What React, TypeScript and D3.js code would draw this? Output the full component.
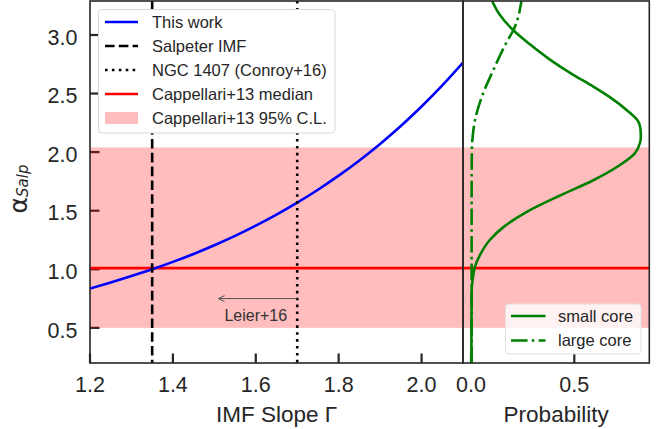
import React from "react";
import * as d3 from "d3";

// ---- data ----
const gammaVals = [1.2, 1.25, 1.3, 1.35, 1.4, 1.45, 1.5, 1.55, 1.6, 1.65, 1.7, 1.75, 1.8, 1.85, 1.9, 1.95, 2.0, 2.05, 2.1];
const alphaThisWork = [0.835, 0.887, 0.942, 1.0, 1.063, 1.131, 1.205, 1.285, 1.372, 1.466, 1.568, 1.679, 1.799, 1.929, 2.07, 2.223, 2.389, 2.569, 2.764];

const smallCoreAlpha = [0.2, 0.5, 0.7, 0.82, 0.91, 1.02, 1.12, 1.25, 1.36, 1.49, 1.63, 1.76, 1.89, 1.99, 2.08, 2.13, 2.2, 2.26, 2.36, 2.47, 2.56, 2.66, 2.79, 2.92, 3.04, 3.17, 3.3];
const smallCoreProb = [0.002, 0.002, 0.003, 0.003, 0.008, 0.019, 0.043, 0.091, 0.157, 0.27, 0.431, 0.592, 0.721, 0.793, 0.818, 0.822, 0.82, 0.81, 0.753, 0.672, 0.592, 0.495, 0.382, 0.285, 0.205, 0.14, 0.1];

const largeCoreAlpha = [0.2, 1.0, 1.6, 2.0, 2.13, 2.27, 2.47, 2.7, 2.94, 3.04, 3.3];
const largeCoreProb = [0.003, 0.003, 0.003, 0.004, 0.008, 0.019, 0.052, 0.108, 0.173, 0.205, 0.245];

const salpeterGamma = 1.35;
const conroyGamma = 1.7;
const cappMedian = 1.01;
const cappLow = 0.5;
const cappHigh = 2.04;

const leftXTicks = [1.2, 1.4, 1.6, 1.8, 2.0];
const rightXTicks = [0.0, 0.5];
const yTicks = [0.5, 1.0, 1.5, 2.0, 2.5, 3.0];

const leftLegend = ["This work", "Salpeter IMF", "NGC 1407 (Conroy+16)", "Cappellari+13 median", "Cappellari+13 95% C.L."];
const rightLegend = ["small core", "large core"];

const annotationText = "Leier+16";
const arrowFromGamma = 1.7;
const arrowToGamma = 1.51;
const arrowAlpha = 0.75;

export default function App() {
  const W = 665, H = 429;
  const top = 1, bottom = 363;
  const lx0 = 90, lx1 = 463, rx1 = 649.3;
  const font = "'Liberation Sans', Arial, sans-serif";
  const ink = "#262626";

  const y = d3.scaleLinear().domain([0.2, 3.29]).range([bottom, top]);
  const xL = d3.scaleLinear().domain([1.2, 2.1]).range([lx0, lx1]);
  const xR = d3.scaleLinear().domain([-0.0387, 0.863]).range([lx1, rx1]);

  const blueLine = d3.line<number>()
    .x((_, i) => xL(gammaVals[i]))
    .y((d) => y(d))
    .curve(d3.curveMonotoneX)(alphaThisWork) as string;

  const smallLine = d3.line<number>()
    .x((d) => xR(d))
    .y((_, i) => y(smallCoreAlpha[i]))
    .curve(d3.curveMonotoneY)(smallCoreProb) as string;

  const largeLine = d3.line<number>()
    .x((d) => xR(d))
    .y((_, i) => y(largeCoreAlpha[i]))
    .curve(d3.curveMonotoneY)(largeCoreProb) as string;

  const lw = 2.6;
  const tickLen = 9.5;
  const ax0 = xL(arrowToGamma), ax1 = xL(arrowFromGamma), ay = y(arrowAlpha);

  const legRows = [22, 46, 70, 94, 118];
  const rlegRows = [316, 340.5];

  return (
    <svg width={W} height={H} style={{ position: "absolute", left: 0, top: 0, background: "#fff" }} fontFamily={font}>
      <defs>
        <clipPath id="clipL"><rect x={lx0} y={top} width={lx1 - lx0} height={bottom - top} /></clipPath>
        <clipPath id="clipR"><rect x={lx1} y={top} width={rx1 - lx1} height={bottom - top} /></clipPath>
      </defs>

      {/* ticks (under band) */}
      {yTicks.map((t) => (
        <line key={"yt" + t} x1={lx0} x2={lx0 + tickLen} y1={y(t)} y2={y(t)} stroke={ink} strokeWidth={2.2} />
      ))}
      {leftXTicks.map((t) => (
        <line key={"xt" + t} x1={xL(t)} x2={xL(t)} y1={bottom} y2={bottom - tickLen} stroke={ink} strokeWidth={2.2} />
      ))}
      {rightXTicks.map((t) => (
        <line key={"rt" + t} x1={xR(t)} x2={xR(t)} y1={bottom} y2={bottom - tickLen} stroke={ink} strokeWidth={2.2} />
      ))}

      {/* band */}
      <rect x={lx0} y={y(cappHigh)} width={rx1 - lx0} height={y(cappLow) - y(cappHigh)} fill="#ff0000" fillOpacity={0.26} />
      {/* median */}
      <line x1={lx0} x2={rx1} y1={y(cappMedian)} y2={y(cappMedian)} stroke="#ff0000" strokeWidth={lw} />

      {/* left panel lines */}
      <g clipPath="url(#clipL)">
        <path d={blueLine} fill="none" stroke="#0000ff" strokeWidth={lw} />
        <line x1={xL(salpeterGamma)} x2={xL(salpeterGamma)} y1={top} y2={bottom} stroke="#000" strokeWidth={lw} strokeDasharray="9.6,4.2" />
        <line x1={xL(conroyGamma)} x2={xL(conroyGamma)} y1={top} y2={bottom} stroke="#000" strokeWidth={lw} strokeDasharray="2.6,4.3" />
      </g>

      {/* right panel lines */}
      <g clipPath="url(#clipR)">
        <path d={largeLine} fill="none" stroke="#008000" strokeWidth={lw} strokeDasharray="16.6,4.2,2.6,4.2" />
        <path d={smallLine} fill="none" stroke="#008000" strokeWidth={lw} />
      </g>

      {/* annotation */}
      <line x1={ax1} x2={ax0} y1={ay} y2={ay} stroke="#555" strokeWidth={1} />
      <path d={`M${ax0 + 6},${ay - 3} L${ax0},${ay} L${ax0 + 6},${ay + 3}`} fill="none" stroke="#555" strokeWidth={1} />
      <text x={xL(1.6)} y={ay + 22} textAnchor="middle" fontSize={16} fill="#333">{annotationText}</text>

      {/* spines */}
      <rect x={lx0} y={top} width={lx1 - lx0} height={bottom - top} fill="none" stroke={ink} strokeWidth={1.6} />
      <rect x={lx1} y={top} width={rx1 - lx1} height={bottom - top} fill="none" stroke={ink} strokeWidth={1.6} />

      {/* tick labels */}
      {yTicks.map((t) => (
        <text key={"yl" + t} x={77.5} y={y(t) + 9.7} textAnchor="end" fontSize={21.5} fill={ink}>{t.toFixed(1)}</text>
      ))}
      {leftXTicks.map((t) => (
        <text key={"xl" + t} x={xL(t)} y={392} textAnchor="middle" fontSize={21.5} fill={ink}>{t.toFixed(1)}</text>
      ))}
      {rightXTicks.map((t) => (
        <text key={"rl" + t} x={xR(t)} y={392} textAnchor="middle" fontSize={21.5} fill={ink}>{t.toFixed(1)}</text>
      ))}

      {/* axis labels */}
      <text x={(lx0 + lx1) / 2} y={422} textAnchor="middle" fontSize={22.5} fill={ink}>IMF Slope Γ</text>
      <text x={(lx1 + rx1) / 2} y={421.5} textAnchor="middle" fontSize={22.5} fill={ink}>Probability</text>
      <text transform="translate(27,189) rotate(-90)" textAnchor="middle" fill={ink} fontFamily="'DejaVu Sans', sans-serif">
        <tspan fontSize={25}>α</tspan>
        <tspan fontSize={15} fontStyle="italic" dy={1}>Salp</tspan>
      </text>

      {/* left legend */}
      <rect x={98.5} y={9.5} width={236.5} height={123.5} rx={3.5} fill="#fff" fillOpacity={1} stroke="#d8d8d8" strokeWidth={1} />
      <line x1={105} x2={138} y1={legRows[0]} y2={legRows[0]} stroke="#0000ff" strokeWidth={lw} />
      <line x1={105} x2={138} y1={legRows[1]} y2={legRows[1]} stroke="#000" strokeWidth={lw} strokeDasharray="9.6,4.2" />
      <line x1={105} x2={138} y1={legRows[2]} y2={legRows[2]} stroke="#000" strokeWidth={lw} strokeDasharray="2.6,4.3" />
      <line x1={105} x2={138} y1={legRows[3]} y2={legRows[3]} stroke="#ff0000" strokeWidth={lw} />
      <rect x={105} y={legRows[4] - 6} width={33} height={12} fill="#ff0000" fillOpacity={0.26} />
      {leftLegend.map((s, i) => (
        <text key={s} x={152} y={legRows[i] + 6} fontSize={16.5} fill={ink}>{s}</text>
      ))}

      {/* right legend */}
      <rect x={505.5} y={304} width={135.5} height={50} rx={3.5} fill="#fff" fillOpacity={0.8} stroke="#e0e0e0" strokeWidth={1} />
      <line x1={511} x2={545.5} y1={rlegRows[0]} y2={rlegRows[0]} stroke="#008000" strokeWidth={lw} />
      <line x1={511} x2={545.5} y1={rlegRows[1]} y2={rlegRows[1]} stroke="#008000" strokeWidth={lw} strokeDasharray="16.6,4.2,2.6,4.2" />
      {rightLegend.map((s, i) => (
        <text key={s} x={558} y={rlegRows[i] + 5.7} fontSize={16.5} fill={ink}>{s}</text>
      ))}
    </svg>
  );
}
